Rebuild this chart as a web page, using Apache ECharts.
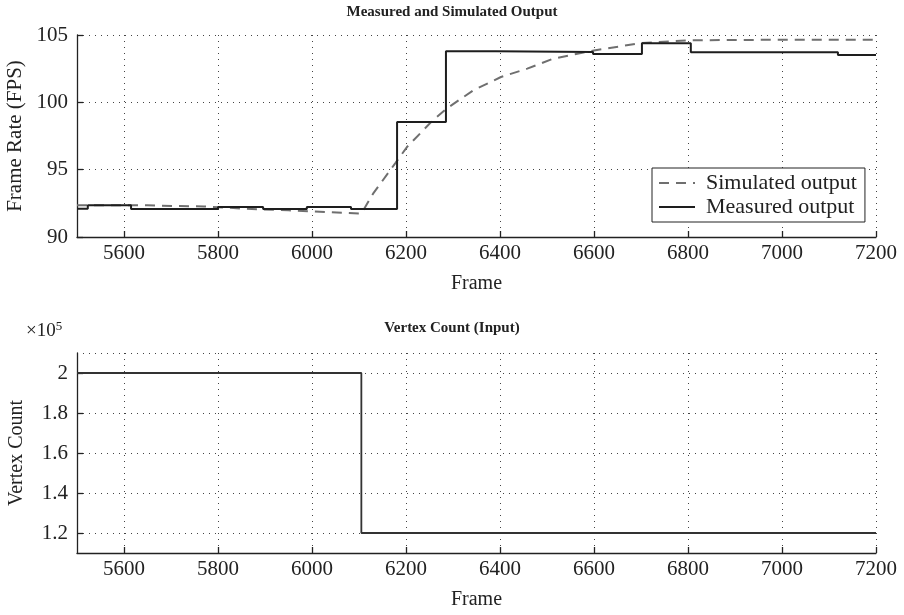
<!DOCTYPE html>
<html>
<head>
<meta charset="utf-8">
<script src="https://cdn.jsdelivr.net/npm/echarts@6/dist/echarts.min.js"></script>
<style>html,body{margin:0;padding:0;background:#fff}#c{width:904px;height:615px}</style>
</head>
<body>
<div id="c"></div>
<script>
// ---- data ----
const measuredFrames = [5500, 5523, 5615, 5800, 5896, 5989, 6083, 6181, 6285, 6391, 6598, 6702, 6806, 7119, 7200];
const measuredFps    = [92.1, 92.35, 92.07, 92.23, 92.07, 92.23, 92.07, 98.54, 103.79, 103.73, 103.58, 104.38, 103.72, 103.52, 103.52];
const simulatedFrames = [5500, 5650, 5706, 5770, 5860, 5950, 6006, 6076, 6105, 6130, 6177, 6202, 6257, 6287, 6343, 6402, 6458, 6513, 6600, 6700, 6800, 6900, 7000, 7200];
const simulatedFps    = [92.35, 92.35, 92.3, 92.27, 92.1, 91.98, 91.9, 91.78, 91.74, 93.22, 95.47, 96.68, 98.66, 99.55, 100.89, 101.88, 102.5, 103.24, 103.85, 104.4, 104.6, 104.63, 104.65, 104.65];
const vertexFrames = [5500, 6105, 7200];
const vertexCounts = [200000, 120000, 120000];

const topTitle = 'Measured and Simulated Output';
const bottomTitle = 'Vertex Count (Input)';
const xName = 'Frame';
const yNameTop = 'Frame Rate (FPS)';
const yNameBottom = 'Vertex Count';
const legendNames = ['Simulated output', 'Measured output'];

const pairs = (xs, ys) => xs.map((x, i) => [x, ys[i]]);

const FONT = '"Liberation Serif", "DejaVu Serif", serif';
const TXT = '#222';
const dotted = { show: true, lineStyle: { type: [1, 5], color: '#444', width: 1 } };
const axisLine = { show: true, onZero: false, lineStyle: { color: '#222', width: 1.3 } };
const axisTick = { show: true, inside: true, length: 6, lineStyle: { color: '#222', width: 1.3 } };

function xAxis(gridIndex) {
  return {
    type: 'value', gridIndex, min: 5500, max: 7200, splitNumber: 8,
    name: xName, nameLocation: 'middle', nameGap: 37,
    nameTextStyle: { fontFamily: FONT, fontSize: 20, color: TXT },
    axisLine, axisTick, splitLine: dotted,
    axisLabel: { showMinLabel: false, fontFamily: FONT, fontSize: 21, color: TXT, margin: 6,
      formatter: v => String(v) }
  };
}

const chart = echarts.init(document.getElementById('c'), null, { renderer: 'canvas' });
chart.setOption({
  animation: false,
  backgroundColor: '#fff',
  title: [
    { text: topTitle, left: 'center', top: 0, textStyle: { fontFamily: FONT, fontWeight: 'bold', fontSize: 15, color: TXT } },
    { text: bottomTitle, left: 'center', top: 316, textStyle: { fontFamily: FONT, fontWeight: 'bold', fontSize: 15, color: TXT } },
    { text: '×10{s|5}', left: 21, top: 315,
      textStyle: { fontFamily: FONT, fontSize: 19, fontWeight: 'normal', color: TXT,
        rich: { s: { fontFamily: FONT, fontSize: 13, color: TXT, verticalAlign: 'top', padding: [0, 0, 10, 0] } } } }
  ],
  grid: [
    { left: 77, top: 35, width: 799, height: 202, outerBoundsMode: 'none', containLabel: false },
    { left: 77, top: 353, width: 799, height: 200, outerBoundsMode: 'none', containLabel: false }
  ],
  xAxis: [xAxis(0), xAxis(1)],
  yAxis: [
    { type: 'value', gridIndex: 0, min: 90, max: 105, interval: 5,
      name: yNameTop, nameLocation: 'middle', nameGap: 48,
      nameTextStyle: { fontFamily: FONT, fontSize: 21, color: TXT },
      axisLine, axisTick, splitLine: dotted,
      axisLabel: { fontFamily: FONT, fontSize: 21, color: TXT, margin: 9 } },
    { type: 'value', gridIndex: 1, min: 110000, max: 210000, splitNumber: 5,
      name: yNameBottom, nameLocation: 'middle', nameGap: 50,
      nameTextStyle: { fontFamily: FONT, fontSize: 20, color: TXT },
      axisLine, axisTick, splitLine: dotted,
      axisLabel: { showMinLabel: false, showMaxLabel: false, fontFamily: FONT, fontSize: 21, color: TXT, margin: 9,
        formatter: v => String(+(v / 100000).toFixed(1)) } }
  ],
  legend: {
    left: 652, top: 168, orient: 'vertical',
    backgroundColor: '#fff', borderColor: '#222', borderWidth: 1,
    padding: [4, 8, 4, 6], itemGap: 2, itemWidth: 36, itemHeight: 22,
    itemStyle: { opacity: 0 },
    textStyle: { fontFamily: FONT, fontSize: 22, color: TXT, padding: [0, 0, 0, 6] },
    data: legendNames
  },
  series: [
    { name: legendNames[0], type: 'line', xAxisIndex: 0, yAxisIndex: 0,
      data: pairs(simulatedFrames, simulatedFps), showSymbol: false, symbol: 'none',
      lineStyle: { color: '#6f6f6f', width: 2, type: [10, 7] }, itemStyle: { color: '#6f6f6f' }, z: 2 },
    { name: legendNames[1], type: 'line', xAxisIndex: 0, yAxisIndex: 0, step: 'end',
      data: pairs(measuredFrames, measuredFps), showSymbol: false, symbol: 'none',
      lineStyle: { color: '#1e1e1e', width: 2 }, itemStyle: { color: '#1e1e1e' }, z: 3 },
    { name: 'Vertex', type: 'line', xAxisIndex: 1, yAxisIndex: 1, step: 'end',
      data: pairs(vertexFrames, vertexCounts), showSymbol: false, symbol: 'none',
      lineStyle: { color: '#333', width: 1.8 } }
  ]
});
</script>
</body>
</html>
